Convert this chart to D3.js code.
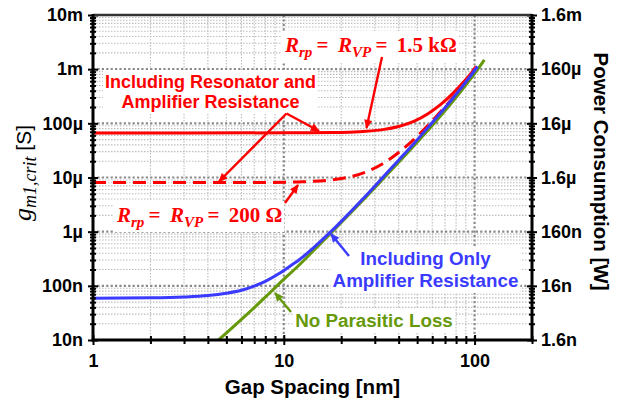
<!DOCTYPE html>
<html>
<head>
<meta charset="utf-8">
<script src="https://cdn.jsdelivr.net/npm/d3@7/dist/d3.min.js"></script>
<style>
  body { margin: 0; background: #fff; }
  svg { display: block; }
</style>
</head>
<body>
<svg id="chart" width="625" height="407"></svg>
<script>
// ---- axis ticks ----
const gapTicks = [1, 10, 100];
const gapTickLabels = ["1", "10", "100"];
const gmTicks = [1e-8, 1e-7, 1e-6, 1e-5, 1e-4, 1e-3, 1e-2];
const gmTickLabels = ["10n", "100n", "1µ", "10µ", "100µ", "1m", "10m"];
const powerTicks = [1.6e-9, 1.6e-8, 1.6e-7, 1.6e-6, 1.6e-5, 1.6e-4, 1.6e-3];
const powerTickLabels = ["1.6n", "16n", "160n", "1.6µ", "16µ", "160µ", "1.6m"];

// ---- series: gap spacing [nm] vs critical transconductance [S] ----
// Including resonator and amplifier resistance, Rrp = RVP = 1.5 kΩ
const gapRes1k5 = [1, 10, 17.7, 22, 27, 33, 40, 48, 57, 67, 77, 87, 97, 102];
const gmRes1k5 = [6.65e-5, 6.67e-5, 6.75e-5, 6.87e-5, 7.12e-5, 7.65e-5, 8.74e-5, 1.085e-4,
                  1.505e-4, 2.285e-4, 3.565e-4, 5.645e-4, 8.815e-4, 1.12e-3];

// Including resonator and amplifier resistance, Rrp = RVP = 200 Ω
const gapRes200 = [1, 8, 12, 17.7, 22, 27, 33, 40, 48, 57, 67, 77, 87, 97];
const gmRes200 = [8.05e-6, 8.1e-6, 8.3e-6, 9.0e-6, 1.02e-5, 1.27e-5, 1.8e-5, 2.9e-5, 5.0e-5,
                  9.2e-5, 1.7e-4, 2.98e-4, 5.06e-4, 8.23e-4];

// Including only amplifier resistance
const gapAmp = [1, 2, 3, 4, 5, 6, 7, 8, 9.5, 11, 12, 14, 17.7, 22, 27, 33, 40, 48, 57, 67, 77,
                87, 97, 103.7];
const gmAmp = [5.93e-8, 6.0e-8, 6.2e-8, 6.6e-8, 7.3e-8, 8.3e-8, 9.9e-8, 1.21e-7, 1.7e-7, 2.43e-7,
               3.0e-7, 4.7e-7, 1.01e-6, 2.19e-6, 4.66e-6, 1.0e-5, 2.09e-5, 4.2e-5, 8.4e-5, 1.62e-4,
               2.9e-4, 4.98e-4, 8.15e-4, 1.12e-3];

// No parasitic loss
const gapIdeal = [4.3, 4.55, 6, 8, 9.5, 12, 14, 17.7, 22, 27, 33, 40, 48, 57, 67, 77, 87, 97, 105, 112.5];
const gmIdeal = [8.4e-9, 1.0e-8, 2.4e-8, 6.17e-8, 1.11e-7, 2.4e-7, 4.12e-7, 9.48e-7, 2.07e-6,
                 4.38e-6, 9.27e-6, 1.91e-5, 3.82e-5, 7.48e-5, 1.43e-4, 2.55e-4, 4.37e-4, 7.21e-4,
                 1.05e-3, 1.49e-3];

// ---- layout ----
const L = 93, R = 532, T = 15, B = 340;
const RED = "#ff0000", BLUE = "#3b3bff", GREEN = "#66990a";

const svg = d3.select("#chart");
const x = d3.scaleLog().domain([1, 200]).range([L, R]);
const y = d3.scaleLog().domain([1e-8, 1e-2]).range([B, T]);
const yP = d3.scaleLog().domain([1.6e-9, 1.6e-3]).range([B, T]);

const xMinor = [2,3,4,5,6,7,8,9,20,30,40,50,60,70,80,90,200];
const yMinor = [];
for (let e = -8; e <= -3; e++) for (let k = 2; k <= 9; k++) yMinor.push(k * Math.pow(10, e));
const yMajorInner = [1e-7, 1e-6, 1e-5, 1e-4, 1e-3];
const xMajorInner = [10, 100];

// ---- grid ----
const grid = svg.append("g");
grid.selectAll(".hmin").data(yMinor).join("line")
  .attr("x1", L).attr("x2", R).attr("y1", d => y(d)).attr("y2", d => y(d))
  .attr("stroke", "#bdbdbd").attr("stroke-width", 1.1).attr("stroke-dasharray", "1.5,1.5");
grid.selectAll(".vmin").data(xMinor).join("line")
  .attr("y1", T).attr("y2", B).attr("x1", d => x(d)).attr("x2", d => x(d))
  .attr("stroke", "#bdbdbd").attr("stroke-width", 1.1).attr("stroke-dasharray", "1.5,1.5");
grid.selectAll(".hmaj").data(yMajorInner).join("line")
  .attr("x1", L).attr("x2", R).attr("y1", d => y(d)).attr("y2", d => y(d))
  .attr("stroke", "#8a8a8a").attr("stroke-width", 2.2).attr("stroke-dasharray", "2.2,2.2");
grid.selectAll(".vmaj").data(xMajorInner).join("line")
  .attr("y1", T).attr("y2", B).attr("x1", d => x(d)).attr("x2", d => x(d))
  .attr("stroke", "#8a8a8a").attr("stroke-width", 2.2).attr("stroke-dasharray", "2.2,2.2");

// layers: white label boxes, curves, arrows, labels
const boxLayer = svg.append("g");
const curveLayer = svg.append("g");
const arrowLayer = svg.append("g");
const textLayer = svg.append("g");

// ---- curves ----
svg.append("clipPath").attr("id", "plotClip")
  .append("rect").attr("x", L).attr("y", T).attr("width", R - L).attr("height", B - T);

const line = d3.line().x(d => x(d[0])).y(d => y(d[1])).curve(d3.curveMonotoneX);
const zip = (a, b) => a.map((v, i) => [v, b[i]]);

curveLayer.attr("clip-path", "url(#plotClip)");
curveLayer.append("path").datum(zip(gapIdeal, gmIdeal)).attr("d", line)
  .attr("fill", "none").attr("stroke", GREEN).attr("stroke-width", 3);
curveLayer.append("path").datum(zip(gapRes200, gmRes200)).attr("d", line)
  .attr("fill", "none").attr("stroke", RED).attr("stroke-width", 3).attr("stroke-dasharray", "13,7");
curveLayer.append("path").datum(zip(gapRes1k5, gmRes1k5)).attr("d", line)
  .attr("fill", "none").attr("stroke", RED).attr("stroke-width", 3);
curveLayer.append("path").datum(zip(gapAmp, gmAmp)).attr("d", line)
  .attr("fill", "none").attr("stroke", BLUE).attr("stroke-width", 3);

// ---- arrows ----
function arrowMarker(id, color) {
  svg.append("defs").append("marker").attr("id", id)
    .attr("viewBox", "0 0 10 10").attr("refX", 9).attr("refY", 5)
    .attr("markerWidth", 10).attr("markerHeight", 9).attr("markerUnits", "userSpaceOnUse")
    .attr("orient", "auto")
    .append("path").attr("d", "M0,0.5 L10,5 L0,9.5 Z").attr("fill", color);
}
arrowMarker("arRed", RED);
arrowMarker("arBlue", BLUE);
arrowMarker("arGreen", GREEN);

function arrow(x1, y1, x2, y2, color, id) {
  arrowLayer.append("line").attr("x1", x1).attr("y1", y1).attr("x2", x2).attr("y2", y2)
    .attr("stroke", color).attr("stroke-width", 2.4).attr("marker-end", `url(#${id})`);
}
// resonator-and-amplifier label points to both red curves
arrow(286.5, 113.5, 319, 131, RED, "arRed");
arrow(286.5, 113.5, 219, 181.5, RED, "arRed");
arrow(382, 57, 366.5, 128, RED, "arRed");
arrow(285, 203, 298, 185, RED, "arRed");
arrow(349, 256, 331, 234, BLUE, "arBlue");
arrow(291, 312, 275, 293, GREEN, "arGreen");

// ---- labels ----
function boxed(g, pad) {
  const b = g.node().getBBox();
  boxLayer.append("rect").attr("x", b.x - pad).attr("y", b.y - pad)
    .attr("width", b.width + 2 * pad).attr("height", b.height + 2 * pad).attr("fill", "#fff");
}
function textBlock(lines, cx, baselines, color, size) {
  const g = textLayer.append("g");
  lines.forEach((t, i) => {
    g.append("text").attr("x", cx).attr("y", baselines[i]).attr("text-anchor", "middle")
      .attr("font-family", "Liberation Sans, Arial, sans-serif").attr("font-weight", "bold")
      .attr("font-size", size).attr("fill", color).text(t);
  });
  boxed(g, 2);
  return g;
}
textBlock(["Including Resonator and", "Amplifier Resistance"], 210.5, [88, 108], RED, 18);
textBlock(["Including Only", "Amplifier Resistance"], 425.5, [265, 287], BLUE, 18.8);
textBlock(["No Parasitic Loss"], 374, [327], GREEN, 18.8);

// math-style resistance labels
function resLabel(x0, yb, value) {
  const g = textLayer.append("g");
  const t = g.append("text").attr("x", x0).attr("y", yb)
    .attr("font-family", "Liberation Serif, Times New Roman, serif").attr("font-weight", "bold")
    .attr("font-size", 21).attr("fill", RED);
  t.append("tspan").attr("font-style", "italic").text("R");
  t.append("tspan").attr("font-style", "italic").attr("font-size", 15).attr("dy", 5).text("rp");
  t.append("tspan").attr("dy", -5).text("\u2009=\u2009 ");
  t.append("tspan").attr("font-style", "italic").text("R");
  t.append("tspan").attr("font-style", "italic").attr("font-size", 15).attr("dy", 5).text("VP");
  t.append("tspan").attr("dy", -5).text("\u2009=\u2009 " + value);
  boxed(g, 2);
}
resLabel(285, 52, "1.5 kΩ");
resLabel(117, 222, "200 Ω");

// ---- axes ----
const tickFont = g => g.selectAll("text")
  .attr("font-family", "Liberation Sans, Arial, sans-serif").attr("font-weight", "bold")
  .attr("font-size", 18).attr("fill", "#000");
const strip = g => { g.select(".domain").remove(); g.selectAll("line").attr("stroke", "#000").attr("stroke-width", 2); };

// left axis
svg.append("g").attr("transform", `translate(${L},0)`)
  .call(d3.axisLeft(y).tickValues(gmTicks).tickFormat((d, i) => gmTickLabels[i]).tickSize(5).tickPadding(5))
  .call(strip).call(tickFont);
svg.append("g").attr("transform", `translate(${L},0)`)
  .call(d3.axisLeft(y).tickValues(gmTicks).tickFormat("").tickSize(-5)).call(strip);
svg.append("g").attr("transform", `translate(${L},0)`)
  .call(d3.axisLeft(y).tickValues(yMinor).tickFormat("").tickSize(3)).call(strip);
svg.append("g").attr("transform", `translate(${L},0)`)
  .call(d3.axisLeft(y).tickValues(yMinor).tickFormat("").tickSize(-3)).call(strip);

// right axis (power consumption)
const pMinor = yMinor.map(v => v * 0.16);
svg.append("g").attr("transform", `translate(${R},0)`)
  .call(d3.axisRight(yP).tickValues(powerTicks).tickFormat((d, i) => powerTickLabels[i]).tickSize(5).tickPadding(4))
  .call(strip).call(tickFont);
svg.append("g").attr("transform", `translate(${R},0)`)
  .call(d3.axisRight(yP).tickValues(powerTicks).tickFormat("").tickSize(-5)).call(strip);
svg.append("g").attr("transform", `translate(${R},0)`)
  .call(d3.axisRight(yP).tickValues(pMinor).tickFormat("").tickSize(3)).call(strip);
svg.append("g").attr("transform", `translate(${R},0)`)
  .call(d3.axisRight(yP).tickValues(pMinor).tickFormat("").tickSize(-3)).call(strip);

// bottom axis
svg.append("g").attr("transform", `translate(0,${B})`)
  .call(d3.axisBottom(x).tickValues(gapTicks).tickFormat((d, i) => gapTickLabels[i]).tickSize(5).tickPadding(9))
  .call(strip).call(tickFont);
svg.append("g").attr("transform", `translate(0,${B})`)
  .call(d3.axisBottom(x).tickValues(gapTicks).tickFormat("").tickSize(-5)).call(strip);
svg.append("g").attr("transform", `translate(0,${B})`)
  .call(d3.axisBottom(x).tickValues(xMinor).tickFormat("").tickSize(4)).call(strip);
svg.append("g").attr("transform", `translate(0,${B})`)
  .call(d3.axisBottom(x).tickValues(xMinor).tickFormat("").tickSize(-4)).call(strip);

// frame
svg.append("line").attr("x1", L).attr("x2", R).attr("y1", T).attr("y2", T)
  .attr("stroke", "#333").attr("stroke-width", 2.5);
svg.append("line").attr("x1", L).attr("x2", L).attr("y1", T - 1).attr("y2", B + 1.5)
  .attr("stroke", "#000").attr("stroke-width", 3);
svg.append("line").attr("x1", R).attr("x2", R).attr("y1", T - 1).attr("y2", B + 1.5)
  .attr("stroke", "#000").attr("stroke-width", 3);
svg.append("line").attr("x1", L - 1.5).attr("x2", R + 1.5).attr("y1", B).attr("y2", B)
  .attr("stroke", "#000").attr("stroke-width", 3);

// ---- axis titles ----
svg.append("text").attr("x", 312.5).attr("y", 394).attr("text-anchor", "middle")
  .attr("font-family", "Liberation Sans, Arial, sans-serif").attr("font-weight", "bold")
  .attr("font-size", 20.5).text("Gap Spacing [nm]");

svg.append("text").attr("transform", "translate(594,171.5) rotate(90)").attr("text-anchor", "middle")
  .attr("font-family", "Liberation Sans, Arial, sans-serif").attr("font-weight", "bold")
  .attr("font-size", 20.5).text("Power Consumption [W]");

const yTitle = svg.append("text").attr("transform", "translate(31,173) rotate(-90)")
  .attr("text-anchor", "middle").attr("font-size", 21);
yTitle.append("tspan").attr("font-family", "Liberation Serif, Times New Roman, serif")
  .attr("font-style", "italic").attr("font-size", 26).text("g");
yTitle.append("tspan").attr("font-family", "Liberation Serif, Times New Roman, serif")
  .attr("font-style", "italic").attr("font-size", 18).attr("dy", 5).text("m1,crit");
yTitle.append("tspan").attr("font-family", "Liberation Sans, Arial, sans-serif")
  .attr("dy", -5).text(" [S]");
</script>
</body>
</html>
